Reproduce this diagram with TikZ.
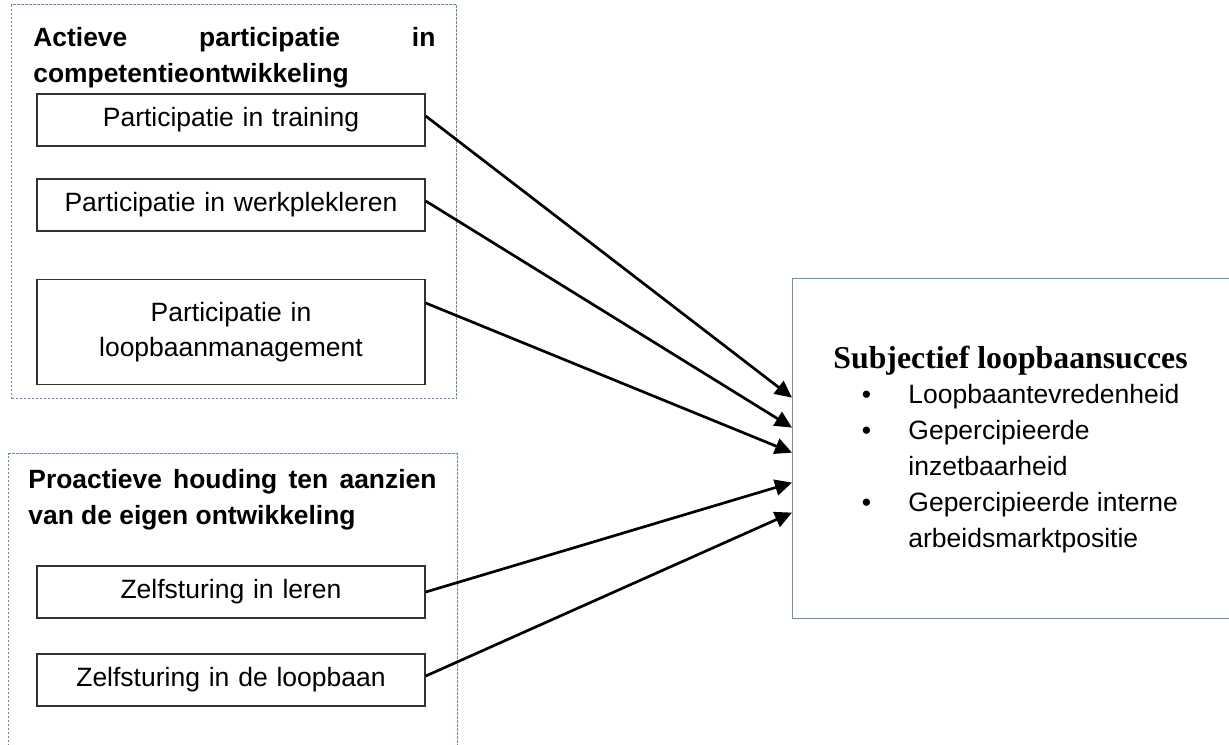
\documentclass[tikz,border=0pt]{standalone}
\usepackage{fontspec}
\setmainfont{Liberation Sans}
\newfontfamily\serifb{Liberation Serif}
\usetikzlibrary{arrows.meta}
\definecolor{grpblue}{RGB}{100,135,190}
\definecolor{outblue}{RGB}{110,140,185}
\definecolor{boxgray}{RGB}{50,50,50}
\tikzset{
  grp/.style={draw=grpblue, line width=0.55pt, dash pattern=on 1.2pt off 0.8pt, anchor=north west, inner sep=0pt},
  itembox/.style={draw=boxgray, line width=0.7pt, minimum width=194pt, text width=190pt, align=center, inner sep=0pt,
    font=\fontsize{13.25}{17.5}\selectfont},
  outbox/.style={draw=outblue, line width=0.6pt, anchor=north west, inner sep=0pt, minimum width=224pt, minimum height=170pt},
  grptitle/.style={anchor=base west, inner sep=0pt, align=left, font=\fontsize{13.2}{17.75}\selectfont\bfseries},
  conn/.style={line width=1.35pt, -{Triangle[length=8.5pt,width=8pt]}},
}
\begin{document}
\begin{tikzpicture}[x=0.5pt,y=-0.5pt]
\useasboundingbox (0,0) rectangle (1229,744);
\clip (0,0) rectangle (1229,744);
% group boxes
\node[grp, minimum width=222.5pt, minimum height=197pt] (g1) at (11,4) {};
\node[grp, minimum width=224.5pt, minimum height=160pt] (g2) at (8,453) {};
% group titles (anchor = baseline of last line)
\node[grptitle] (t1) at (33,82) {\hbox to 201pt{Actieve\hfill participatie\hfill in}\\competentieontwikkeling};
\node[grptitle] (t2) at (28,524) {\hbox to 204pt{Proactieve\hfill houding\hfill ten\hfill aanzien}\\van de eigen ontwikkeling};
% item boxes
\node[itembox, minimum height=26pt] (b1) at (231,120) {Participatie in training};
\node[itembox, minimum height=26pt] (b2) at (231,205) {Participatie in werkplekleren};
\node[itembox, minimum height=52.5pt] (b3) at (231,332) {Participatie in\\loopbaanmanagement};
\node[itembox, minimum height=26pt] (b4) at (231,592) {Zelfsturing in leren};
\node[itembox, minimum height=26pt] (b5) at (231,680) {Zelfsturing in de loopbaan};
% outcome box
\node[outbox] (out) at (792,278) {};
\node[anchor=base west, inner sep=0pt, font=\fontsize{15.9}{18}\serifb\bfseries] (ot) at (833,368) {Subjectief loopbaansucces};
\node[anchor=base west, inner sep=0pt, align=left, font=\fontsize{13.25}{18}\selectfont] (ol) at (908,547)
  {\llap{\makebox[23.3pt][l]{•}}Loopbaantevredenheid\\
   \llap{\makebox[23.3pt][l]{•}}Gepercipieerde\\
   inzetbaarheid\\
   \llap{\makebox[23.3pt][l]{•}}Gepercipieerde interne\\
   arbeidsmarktpositie};
% connectors
\draw[conn] ([yshift=2pt]b1.east) -- ([yshift=25.5pt]out.west);
\draw[conn] ([yshift=2pt]b2.east) -- ([yshift=10.5pt]out.west);
\draw[conn] ([yshift=14.5pt]b3.east) -- ([yshift=-2pt]out.west);
\draw[conn] (b4.east) -- ([yshift=-17pt]out.west);
\draw[conn] ([yshift=2pt]b5.east) -- ([yshift=-32pt]out.west);
\end{tikzpicture}
\end{document}
